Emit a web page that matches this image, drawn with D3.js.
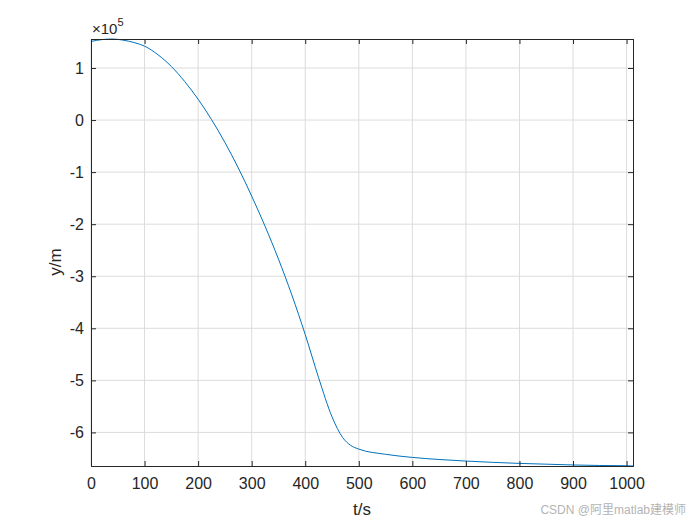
<!DOCTYPE html>
<html>
<head>
<meta charset="utf-8">
<script src="https://cdn.jsdelivr.net/npm/d3@7"></script>
<style>
  body { margin: 0; background: #fff; }
  svg { display: block; font-family: "Liberation Sans", Arial, sans-serif; }
</style>
</head>
<body>
<svg id="chart" width="700" height="525"></svg>
<script>
// time (s) and displacement (x1e5 m)
var times = [0, 20, 40, 60, 80, 100, 125, 150, 175, 200, 225, 250, 275, 300, 325, 350,
  375, 400, 425, 450, 470, 485, 500, 550, 600, 650, 700, 750, 800, 850, 900, 950, 1000, 1012];
var yValues = [1.51, 1.545, 1.557, 1.535, 1.49, 1.42, 1.255, 1.03, 0.74, 0.40, 0.01, -0.43,
  -0.92, -1.46, -2.04, -2.67, -3.36, -4.12, -4.95, -5.70, -6.10, -6.25, -6.32, -6.42, -6.48,
  -6.52, -6.55, -6.575, -6.595, -6.61, -6.625, -6.635, -6.64, -6.645];
var xTicks = [0, 100, 200, 300, 400, 500, 600, 700, 800, 900, 1000];
var yTicks = [1, 0, -1, -2, -3, -4, -5, -6];

(function () {
  var margin = {top: 39, right: 67, bottom: 59, left: 91};
  var width = 700 - margin.left - margin.right;
  var height = 525 - margin.top - margin.bottom;
  var tickLen = 5;

  var svg = d3.select("#chart");
  var vis = svg.append("g")
      .attr("transform", "translate(" + margin.left + "," + margin.top + ")");

  var data = times.map(function(t, i) { return {t: t, y: yValues[i]}; });

  var xscale = d3.scaleLinear()
    .domain(d3.extent(times))
    .range([0, width]);
  var yscale = d3.scaleLinear()
    .domain(d3.extent(yValues))
    .range([height, 0]);

  // grid
  vis.append("g").selectAll("line")
    .data(xTicks).enter().append("line")
      .attr("x1", function(d) { return xscale(d); })
      .attr("x2", function(d) { return xscale(d); })
      .attr("y1", 0).attr("y2", height)
      .attr("stroke", "#dcdcdc").attr("stroke-width", 1);
  vis.append("g").selectAll("line")
    .data(yTicks).enter().append("line")
      .attr("y1", function(d) { return yscale(d); })
      .attr("y2", function(d) { return yscale(d); })
      .attr("x1", 0).attr("x2", width)
      .attr("stroke", "#dcdcdc").attr("stroke-width", 1);

  // curve
  var line = d3.line()
    .x(function(d) { return xscale(d.t); })
    .y(function(d) { return yscale(d.y); })
    .curve(d3.curveMonotoneX);
  vis.append("path")
    .datum(data)
    .attr("d", line)
    .attr("fill", "none")
    .attr("stroke", "#0072bd")
    .attr("stroke-width", 1);

  // axes (ticks inward, box on)
  var axisColor = "#262626";
  var plain = function(d) { return String(d); };
  var bottom = vis.append("g")
    .attr("transform", "translate(0," + height + ")")
    .call(d3.axisBottom(xscale).tickValues(xTicks).tickSize(-tickLen).tickPadding(12).tickFormat(plain));
  var top = vis.append("g")
    .call(d3.axisTop(xscale).tickValues(xTicks).tickSize(-tickLen).tickFormat(""));
  var left = vis.append("g")
    .call(d3.axisLeft(yscale).tickValues(yTicks).tickSize(-tickLen).tickPadding(12).tickFormat(plain));
  var right = vis.append("g")
    .attr("transform", "translate(" + width + ",0)")
    .call(d3.axisRight(yscale).tickValues(yTicks).tickSize(-tickLen).tickFormat(""));

  [bottom, top, left, right].forEach(function(g) {
    g.select(".domain").attr("stroke", axisColor).attr("stroke-width", 1);
    g.selectAll(".tick line").attr("stroke", axisColor);
    g.selectAll("text")
      .attr("fill", axisColor)
      .style("font-size", "16px")
      .style("font-family", "'Liberation Sans', Arial, sans-serif");
  });
  left.selectAll(".tick text").attr("x", -7);

  // exponent label
  var expo = svg.append("text")
    .attr("x", margin.left + 1)
    .attr("y", 34)
    .attr("fill", axisColor)
    .style("font-size", "15px");
  expo.append("tspan").text("\u00d710");
  expo.append("tspan").attr("dy", -8).style("font-size", "11px").text("5");

  // axis labels
  svg.append("text")
    .attr("x", margin.left + width / 2)
    .attr("y", 515)
    .attr("text-anchor", "middle")
    .attr("fill", axisColor)
    .style("font-size", "17px")
    .text("t/s");
  svg.append("text")
    .attr("transform", "translate(61," + 262 + ") rotate(-90)")
    .attr("text-anchor", "middle")
    .attr("fill", axisColor)
    .style("font-size", "17px")
    .text("y/m");

  // watermark
  svg.append("text")
    .attr("x", 686)
    .attr("y", 514)
    .attr("text-anchor", "end")
    .attr("fill", "#b4b4b4")
    .style("font-size", "12px")
    .style("font-family", "'Liberation Sans', 'Noto Sans CJK SC', sans-serif")
    .text("CSDN @阿里matlab建模师");
})();
</script>
</body>
</html>
